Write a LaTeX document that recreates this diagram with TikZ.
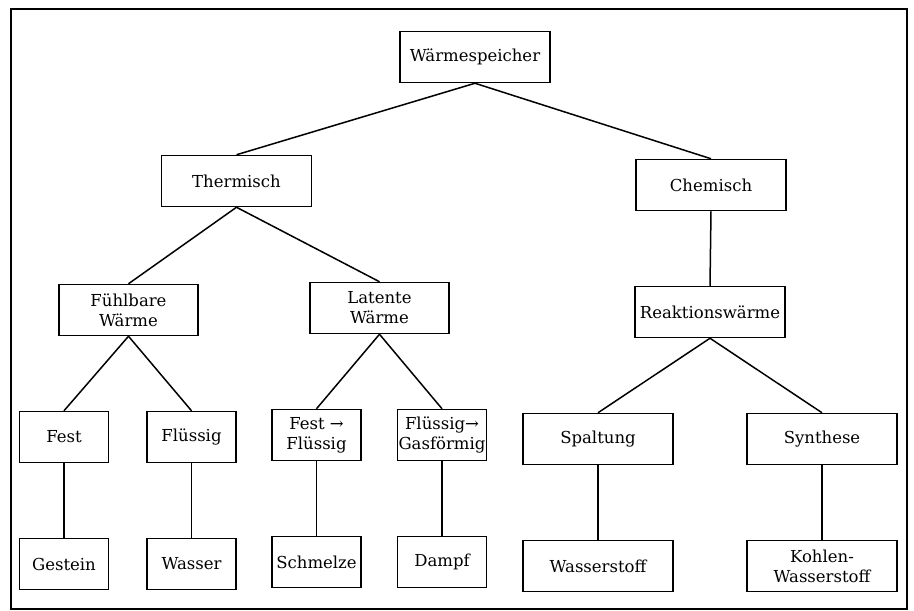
\documentclass[tikz,border=0pt]{standalone}
\usepackage{fontspec}
\setmainfont{DejaVu Serif}
\usepackage{tikz}
\usetikzlibrary{positioning}
\tikzset{
    block/.style={rectangle, minimum width=150pt, minimum height=51pt, inner sep=1pt, text centered, align=center, draw=black, line width=1.5pt, font=\fontsize{16.5}{20}\selectfont},
    midblock/.style={block, minimum width=139pt},
    smallblock/.style={block, minimum width=89pt},
    link/.style={line width=1.5pt}
}

\begin{document}
\begin{tikzpicture}[node distance=127pt]
\useasboundingbox (0,0) rectangle (914pt,-611pt);
\draw [line width=1.3pt] (11pt,-9pt) rectangle (907pt,-609pt);

% Nodes
\node (ws) [block] at (475pt,-57pt) {Wärmespeicher};
\node (th) [block, below of=ws, xshift=-238.5pt, yshift=3pt] {Thermisch};
\node (ch) [block, below of=ws, xshift=236pt, yshift=-1pt] {Chemisch};
\node (fw) [midblock, below of=th, xshift=-108pt, yshift=-2pt] {Fühlbare\\Wärme};
\node (lw) [midblock, below of=th, xshift=143pt] {Latente\\Wärme};
\node (rw) [block, below of=ch, xshift=-1pt] {Reaktionswärme};
\node (fe) [smallblock, below of=fw, xshift=-64.5pt] {Fest};
\node (fl) [smallblock, below of=fw, xshift=63pt] {Flüssig};
\node (ff) [smallblock, below of=lw, xshift=-63pt] {Fest →\\Flüssig};
\node (fg) [smallblock, below of=lw, xshift=62.5pt] {Flüssig→\\Gasförmig};
\node (sp) [block, below of=rw, xshift=-112pt] {Spaltung};
\node (sy) [block, below of=rw, xshift=112pt] {Synthese};
\node (ge) [smallblock, below of=fe] {Gestein};
\node (wa) [smallblock, below of=fl] {Wasser};
\node (sc) [smallblock, below of=ff] {Schmelze};
\node (da) [smallblock, below of=fg] {Dampf};
\node (wst) [block, below of=sp] {Wasserstoff};
\node (kw) [block, below of=sy] {Kohlen-\\Wasserstoff};

% Lines
\draw [link] (ws.south) -- (th.north);
\draw [link] (ws.south) -- (ch.north);
\draw [link] (th.south) -- (fw.north);
\draw [link] (th.south) -- (lw.north);
\draw [link] (ch.south) -- (rw.north);
\draw [link] (fw.south) -- (fe.north);
\draw [link] (fw.south) -- (fl.north);
\draw [link] (lw.south) -- (ff.north);
\draw [link] (lw.south) -- (fg.north);
\draw [link] (rw.south) -- (sp.north);
\draw [link] (rw.south) -- (sy.north);
\draw [link] (fe) -- (ge);
\draw [link] (fl) -- (wa);
\draw [link] (ff) -- (sc);
\draw [link] (fg) -- (da);
\draw [link] (sp) -- (wst);
\draw [link] (sy) -- (kw);

\end{tikzpicture}
\end{document}
